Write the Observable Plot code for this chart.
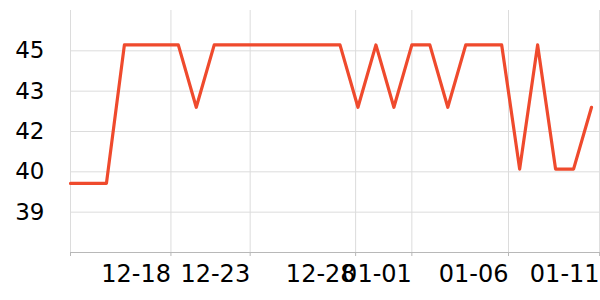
<!DOCTYPE html>
<html><head><meta charset="utf-8">
<script src="https://cdn.jsdelivr.net/npm/d3@7"></script>
<script src="https://cdn.jsdelivr.net/npm/@observablehq/plot@0.6"></script>
<style>body{margin:0;background:#fff}</style>
</head><body><div id="chart"></div>
<script>
const values = [40.07,40.07,40.07,45.22,45.22,45.22,45.22,42.9,45.22,45.22,45.22,45.22,45.22,45.22,45.22,45.22,42.9,45.22,42.9,45.22,45.22,42.9,45.22,45.22,45.22,40.6,45.22,40.6,40.6,42.9];
const yTicks = [39, 40.5, 42, 43.5, 45];
const xTicks = [0, 5.59, 10, 15.87, 19, 24.38, 29.45];
const xLabels = ["", "12-18", "12-23", "12-28", "01-01", "01-06", "01-11"];
const data = values.map((v, i) => ({i, v}));

const chart = Plot.plot({
  width: 600, height: 300,
  marginLeft: 70, marginRight: 0, marginTop: 10, marginBottom: 48,
  style: {fontFamily: "DejaVu Sans", fontSize: "22px", background: "#fff"},
  x: {type: "linear", domain: [0, values.length - 0.5], label: null},
  y: {domain: [37.5, 46.5], label: null},
  marks: [
    Plot.gridY(yTicks, {stroke: "#dcdcdc", strokeOpacity: 1}),
    Plot.gridX(xTicks, {stroke: "#dcdcdc", strokeOpacity: 1}),
    Plot.frame({anchor: "bottom", stroke: "#b8b8b8"}),
    Plot.axisY(yTicks, {tickSize: 0, tickPadding: 26, tickFormat: d => String(Math.floor(d)), fontSize: 23, fill: "#000", label: null}),
    Plot.axisX(xTicks, {tickSize: 4, tickPadding: 8, stroke: "#b8b8b8", tickFormat: d => xLabels[xTicks.indexOf(d)], textAnchor: "end", fontSize: 24, fill: "#000", label: null}),
    Plot.line(data, {x: "i", y: "v", stroke: "#ef4a2d", strokeWidth: 3.2})
  ]
});
document.getElementById("chart").appendChild(chart);
</script>
</body></html>
